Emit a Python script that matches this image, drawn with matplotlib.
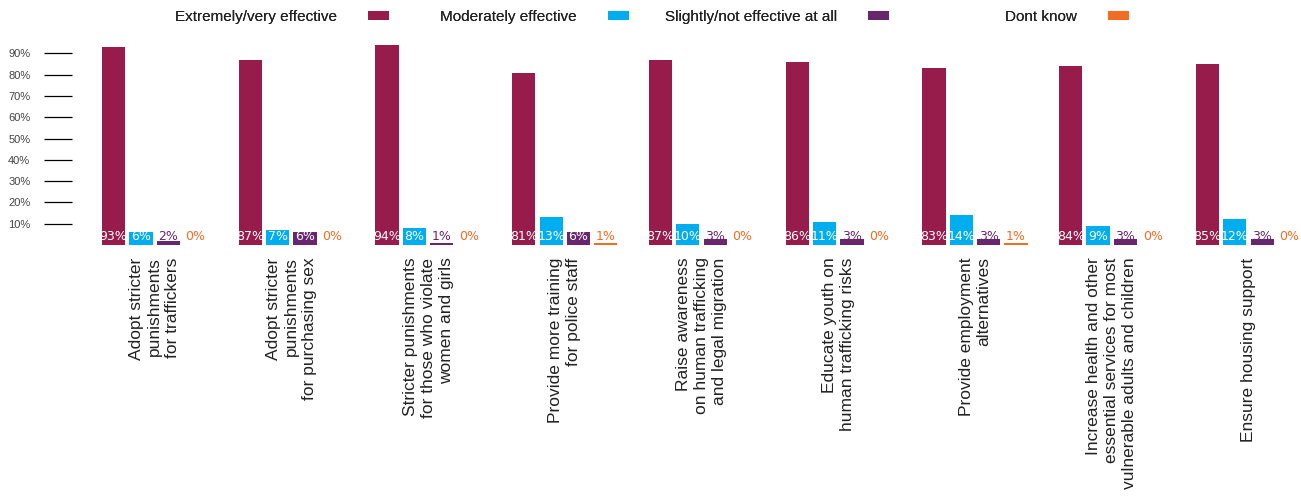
import numpy as np
import matplotlib
matplotlib.use("Agg")
import matplotlib.pyplot as plt
from matplotlib.patches import Patch

# Data
categories = [
    "Adopt stricter\npunishments\nfor traffickers",
    "Adopt stricter\npunishments\nfor purchasing sex",
    "Stricter punishments\nfor those who violate\nwomen and girls",
    "Provide more training\nfor police staff",
    "Raise awareness\non human trafficking\nand legal migration",
    "Educate youth on\nhuman trafficking risks",
    "Provide employment\nalternatives",
    "Increase health and other\nessential services for most\nvulnerable adults and children",
    "Ensure housing support",
]
series_names = ["Extremely/very effective", "Moderately effective",
                "Slightly/not effective at all", "Dont know"]
extremely = [93, 87, 94, 81, 87, 86, 83, 84, 85]
moderately = [6, 7, 8, 13, 10, 11, 14, 9, 12]
slightly = [2, 6, 1, 6, 3, 3, 3, 3, 3]
dont_know = [0, 0, 0, 1, 0, 0, 1, 0, 0]
yticks = [10, 20, 30, 40, 50, 60, 70, 80, 90]

colors = ["#971b4b", "#00aeef", "#68266f", "#f26c23"]
series = [extremely, moderately, slightly, dont_know]

fig = plt.figure(figsize=(13.01, 5.01), dpi=100)
ax = fig.add_axes([72 / 1301, 256 / 501, (1295 - 72) / 1301, 215 / 501])

group_x = np.arange(len(categories)) * 5.0
bar_w = 0.85
for j, (vals, col) in enumerate(zip(series, colors)):
    xs = group_x + j - 1.5
    ax.bar(xs, vals, width=bar_w, color=col, linewidth=0)
    for x, v in zip(xs, vals):
        # white labels inside bars big enough, otherwise coloured text
        if j < 2 or v >= 6:
            tc = "white"
        else:
            tc = col
        ax.text(x, 4.0, f"{v}%", ha="center", va="center", fontsize=9,
                color=tc, family="DejaVu Sans")

ax.set_xlim(-3.02, 41.7)
ax.set_ylim(0, 101)
for s in ax.spines.values():
    s.set_visible(False)

ax.set_yticks(yticks)
ax.set_yticklabels([f"{t}%" for t in yticks], family="Liberation Sans",
                   fontsize=8, color="#444444")
ax.tick_params(axis="y", length=20, width=0.9, color="black", pad=10,
               direction="out")

ax.set_xticks(group_x)
ax.set_xticklabels(categories, rotation=90, fontsize=12.5,
                   family="Liberation Sans", color="#222222",
                   multialignment="right", linespacing=1.25)
ax.tick_params(axis="x", length=0, pad=9)

# Legend: text followed by the coloured square (anchored at square's right edge)
square_right = [389, 629, 889, 1129]
for name, col, rx in zip(series_names, colors, square_right):
    leg = fig.legend(handles=[Patch(facecolor=col, edgecolor="none", label=name)],
                     loc="center right", bbox_to_anchor=(rx / 1301, 1 - 17 / 501),
                     frameon=False, markerfirst=False, borderpad=0,
                     borderaxespad=0, handlelength=1.4, handleheight=0.55,
                     handletextpad=2.0,
                     prop={"family": "Liberation Sans", "size": 11})
    leg.get_texts()[0].set_color("#222222")
    fig.add_artist(leg)

fig.savefig("out.png", dpi=100)
